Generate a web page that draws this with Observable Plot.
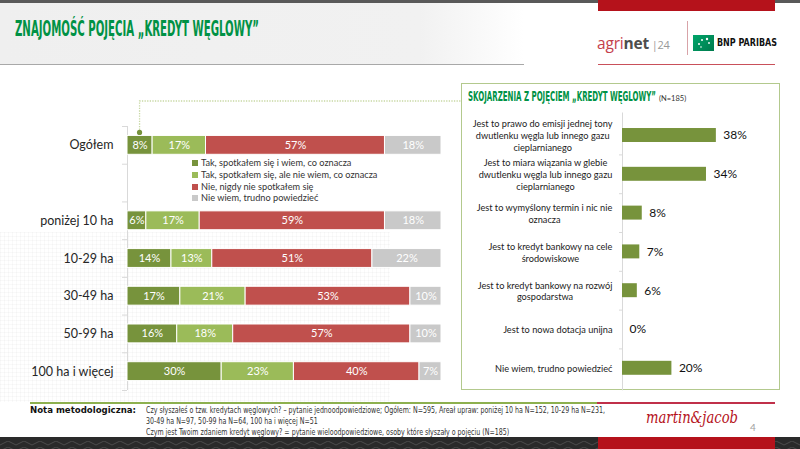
<!DOCTYPE html>
<html><head><meta charset="utf-8">
<script src="https://cdn.jsdelivr.net/npm/d3@7"></script>
<script src="https://cdn.jsdelivr.net/npm/@observablehq/plot@0.6"></script>
<style>
html,body{margin:0;padding:0;}
body{width:800px;height:449px;position:relative;overflow:hidden;background:#fff;font-family:Lato,"Liberation Sans",sans-serif;}
.a{position:absolute;white-space:nowrap;}
.narrow{font-family:"Liberation Sans Narrow","DejaVu Sans Condensed",sans-serif;}
</style></head><body>
<script>
// ---------- data ----------
const categories = ["Ogółem","poniżej 10 ha","10-29 ha","30-49 ha","50-99 ha","100 ha i więcej"];
const seriesNames = ["Tak, spotkałem się i wiem, co oznacza","Tak, spotkałem się, ale nie wiem, co oznacza","Nie, nigdy nie spotkałem się","Nie wiem, trudno powiedzieć"];
const seriesColors = ["#77933c","#9bbb59","#c0504d","#c9c9c9"];
const knowAndUnderstand = [8,6,14,17,16,30];
const knowNotUnderstand = [17,17,13,21,18,23];
const neverMet = [57,59,51,53,57,40];
const dontKnow = [18,18,22,10,10,7];

const assocLabels = [
  "Jest to prawo do emisji jednej tony\ndwutlenku węgla lub innego gazu\ncieplarnianego",
  "Jest to miara wiązania w glebie\ndwutlenku węgla lub innego gazu\ncieplarnianego",
  "Jest to wymyślony termin i nic nie\noznacza",
  "Jest to kredyt bankowy na cele\nśrodowiskowe",
  "Jest to kredyt bankowy na rozwój\ngospodarstwa",
  "Jest to nowa dotacja unijna",
  "Nie wiem, trudno powiedzieć"];
const assocValues = [38,34,8,7,6,0,20];

const titleText = "ZNAJOMOŚĆ POJĘCIA „KREDYT WĘGLOWY”";
const panelTitle = "SKOJARZENIA Z POJĘCIEM „KREDYT WĘGLOWY”";
const noteLines = [
  "Czy słyszałeś o tzw. kredytach węglowych? – pytanie jednoodpowiedziowe; Ogółem: N=595, Areał upraw: poniżej 10 ha N=152, 10-29 ha N=231,",
  "30-49 ha N=97, 50-99 ha N=64, 100 ha i więcej N=51",
  "Czym jest Twoim zdaniem kredyt węglowy? = pytanie wieloodpowiedziowe, osoby które słyszały o pojęciu (N=185)"];

// ---------- helpers ----------
function el(tag, css, html){const e=document.createElement(tag);e.className="a";Object.assign(e.style,css);if(html!==undefined)e.innerHTML=html;document.body.appendChild(e);return e;}
function fit(e,w){const r=e.getBoundingClientRect().width;e.style.transformOrigin="0 0";e.style.transform=`scaleX(${w/r})`;}

// ---------- decoration ----------
el("div",{left:"0",top:"3px",width:"524px",height:"61px",background:"linear-gradient(to right,#efefef 0%,#f1f1f1 80%,#ffffff 100%)",borderBottom:"1px solid #a8a8a8"});
el("div",{left:"0",top:"0",width:"800px",height:"3px",background:"#595959"});
el("div",{left:"598px",top:"0",width:"177px",height:"11px",background:"#b5121b"});
// faint grid background
el("div",{left:"0",top:"232px",width:"390px",height:"170px",
  backgroundImage:"linear-gradient(rgba(0,0,0,0.025) 1px,transparent 1px),linear-gradient(90deg,rgba(0,0,0,0.025) 1px,transparent 1px)",
  backgroundSize:"4px 4px"});

const t = el("div",{left:"15px",top:"16px",fontSize:"22px",fontWeight:"bold",color:"#009245",lineHeight:"25px"},titleText);
t.classList.add("narrow"); fit(t,244);

// logos
el("div",{left:"597px",top:"34px",fontSize:"15.5px",fontFamily:"'Open Sans',sans-serif",lineHeight:"18px",letterSpacing:"-0.2px"},
  '<span style="color:#c4404b">agri</span><span style="color:#4d4d4d;font-weight:bold">net</span><span style="color:#999;font-size:11px"> |24</span>');
el("div",{left:"687px",top:"21px",width:"1px",height:"34px",background:"#d8a3a8"});
el("div",{left:"693px",top:"35px",width:"21px",height:"16px",background:"linear-gradient(135deg,#00a56a,#007a4d)"},
  '<svg width="21" height="16"><circle cx="6" cy="9" r="1" fill="#fff"/><circle cx="9" cy="5" r="1" fill="#fff"/><circle cx="14" cy="4" r="1.2" fill="#fff"/><circle cx="16" cy="8" r="0.9" fill="#fff"/><circle cx="8" cy="12" r="0.8" fill="#fff"/></svg>');
const bnp = el("div",{left:"717px",top:"37px",fontSize:"10px",fontWeight:"bold",color:"#111",fontFamily:"'DejaVu Sans',sans-serif"},"BNP PARIBAS");
fit(bnp,60);
el("div",{left:"598px",top:"64px",width:"177px",height:"1px",background:"#c9505a"});

// right panel box
el("div",{left:"461px",top:"83px",width:"317px",height:"305px",border:"1.5px solid #b3c98d"});
const pt = el("div",{left:"468px",top:"89px",fontSize:"13.5px",fontWeight:"bold",color:"#009245",lineHeight:"15px"},panelTitle);
pt.classList.add("narrow"); fit(pt,188);
el("div",{left:"659px",top:"94px",fontSize:"7.5px",color:"#333",lineHeight:"9px"},"(N=185)");

// ---------- left chart ----------
const rows = [];
const seriesArrays = [knowAndUnderstand,knowNotUnderstand,neverMet,dontKnow];
categories.forEach((c,i)=>seriesArrays.forEach((arr,j)=>rows.push({cat:c,series:seriesNames[j],value:arr[i]})));
const yDomain = [categories[0]," ",...categories.slice(1)];
const LW=455, LH=285, LML=127, LMR=14, LMT=16, LMB=5;
const lstep = (LH-LMT-LMB)/7;
const tickFrac = 5/(LW-LML-LMR);
const left = Plot.plot({
  width:LW,height:LH,marginLeft:LML,marginRight:LMR,marginTop:LMT,marginBottom:LMB,
  style:{fontFamily:"Lato, 'Liberation Sans', sans-serif",background:"transparent",overflow:"visible"},
  x:{domain:[0,1],axis:null},
  y:{domain:yDomain,paddingInner:0.5,paddingOuter:0.25,round:false},
  color:{domain:seriesNames,range:seriesColors},
  marks:[
    Plot.ruleX([0],{stroke:"#d9d9d9"}),
    Plot.ruleY(yDomain,{y:d=>d,x1:0,x2:-tickFrac,dy:-lstep/2,stroke:"#d9d9d9"}),
    Plot.ruleY([yDomain[yDomain.length-1]],{y:d=>d,x1:0,x2:-tickFrac,dy:lstep/2,stroke:"#d9d9d9"}),
    Plot.barX(rows,Plot.stackX({x:"value",y:"cat",fill:"series",order:seriesNames,offset:"normalize",stroke:"white",strokeWidth:1})),
    Plot.text(rows,Plot.stackX({x:"value",y:"cat",z:"series",order:seriesNames,offset:"normalize",text:d=>d.value+"%",fill:"white",fontSize:11,fontWeight:400})),
    Plot.axisY({tickSize:0,tickPadding:14,fontSize:12.5,fontWeight:400,label:null,fill:"#262626"})
  ]
});
const lw = document.createElement("div"); lw.className="a"; Object.assign(lw.style,{left:"0",top:"110px"}); lw.appendChild(left); document.body.appendChild(lw);

// legend
const lg = el("div",{left:"192px",top:"157px",fontSize:"9.2px",color:"#333",lineHeight:"11.8px"});
lg.innerHTML = seriesNames.map((s,i)=>`<div><span style="display:inline-block;width:6px;height:6px;background:${seriesColors[i]};margin-right:3px;vertical-align:0px"></span>${s}</div>`).join("");

// connector
{
  const frac = knowAndUnderstand[0]/(knowAndUnderstand[0]+knowNotUnderstand[0]+neverMet[0]+dontKnow[0])/2;
  const cx = left.scale("x").apply(frac);
  const by = 110 + left.scale("y").apply(categories[0]);
  el("div",{left:"0",top:"0",width:"800px",height:"449px",pointerEvents:"none"},
   `<svg width="800" height="449"><path d="M${cx},${by-3} V101 H461" fill="none" stroke="#c8d8a4" stroke-width="1.3" stroke-dasharray="1.3 1.3"/><circle cx="${cx}" cy="${by-3}" r="2.6" fill="#77933c"/></svg>`);
}

// ---------- right chart ----------
const RW=319, RH=292, RML=161, RMR=59.2, RMT=12.5, RMB=1.7;
const k = (RW-RML-RMR)/40;
const cvs = document.createElement("canvas").getContext("2d");
cvs.font = "9.2px Lato";
const assoc = assocLabels.map((l,i)=>{
  const maxW = d3.max(l.split("\n"),s=>cvs.measureText(s).width);
  return {label:l,value:assocValues[i],lx:-(10+maxW/2)/k};
});
const rstep = (RH-RMT-RMB)/(7-0.64+0.8);
const right = Plot.plot({
  width:RW,height:RH,marginLeft:RML,marginRight:RMR,marginTop:RMT,marginBottom:RMB,
  style:{fontFamily:"Lato, 'Liberation Sans', sans-serif",background:"transparent",overflow:"visible"},
  x:{domain:[0,40],axis:null},
  y:{domain:assocLabels,paddingInner:0.64,paddingOuter:0.4,axis:null,round:false},
  marks:[
    Plot.ruleX([0],{stroke:"#d9d9d9"}),
    Plot.ruleY(assocLabels.slice(1),{y:d=>d,x1:0,x2:-3/k,dy:-rstep/2,stroke:"#d9d9d9"}),
    Plot.barX(assoc,{x:"value",y:"label",fill:"#77933c"}),
    Plot.text(assoc,{x:"value",y:"label",text:d=>d.value+"%",dx:7,textAnchor:"start",fontSize:12,fill:"#111"}),
    Plot.text(assoc,{x:"lx",y:"label",text:"label",textAnchor:"middle",lineHeight:1.3,fontSize:9.2,fill:"#222"})
  ]
});
const rw = document.createElement("div"); rw.className="a"; Object.assign(rw.style,{left:"461px",top:"100px"}); rw.appendChild(right); document.body.appendChild(rw);

// ---------- footer ----------
el("div",{left:"30px",top:"402px",width:"567px",height:"1.5px",background:"#8db04f"});
el("div",{left:"597px",top:"402px",width:"178px",height:"1.5px",background:"#c0304a"});
const nm = el("div",{left:"30px",top:"405px",fontSize:"9px",fontWeight:"bold",color:"#111",fontFamily:"'DejaVu Sans',sans-serif",lineHeight:"11px"},"Nota metodologiczna:");
fit(nm,106);
const nt = el("div",{left:"146px",top:"405px",fontSize:"8px",color:"#333",lineHeight:"11px"},noteLines.map(s=>`<div>${s}</div>`).join(""));
nt.classList.add("narrow");
{ const first = nt.firstChild; const r = first.getBoundingClientRect().width; nt.style.transformOrigin="0 0"; nt.style.transform=`scaleX(${459/r})`; }
const sig = el("div",{left:"646px",top:"406px",fontSize:"17px",fontStyle:"italic",color:"#b5121b",fontFamily:"'DejaVu Serif',serif",lineHeight:"22px"},"martin&amp;jacob");
fit(sig,92);
el("div",{left:"750px",top:"421px",fontSize:"10px",color:"#a0a0a0",lineHeight:"12px"},"4");
el("div",{left:"0",top:"437px",width:"800px",height:"12px",background:"#2a2a2a"},
 '<svg width="800" height="12"><defs><pattern id="zz" width="16" height="6" patternUnits="userSpaceOnUse"><path d="M0,4 L8,0 L16,4" fill="none" stroke="#4a4a4a" stroke-width="1"/></pattern></defs><rect width="800" height="12" fill="url(#zz)"/></svg>');
el("div",{left:"598px",top:"437px",width:"177px",height:"12px",background:"#b5121b"});
</script>
</body></html>
